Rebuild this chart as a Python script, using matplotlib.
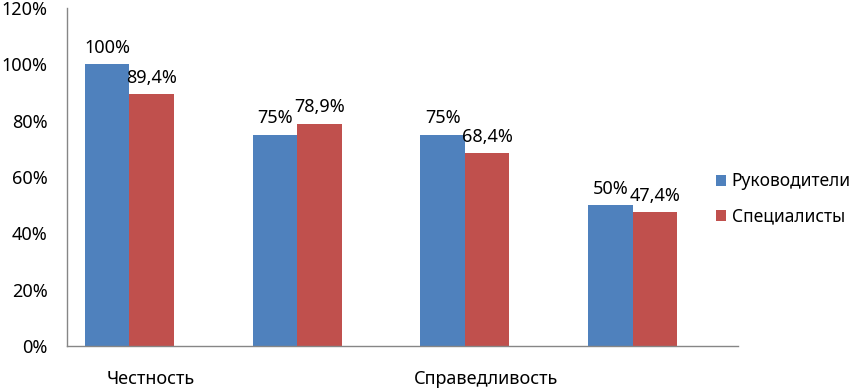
import numpy as np
from matplotlib import pyplot as plt

plt.rcParams['font.family'] = ['Noto Sans', 'DejaVu Sans']

# data
categories = ['Честность', '', 'Справедливость', '']
managers = [100.0, 75.0, 75.0, 50.0]
specialists = [89.4, 78.9, 68.4, 47.4]
managers_text = ['100%', '75%', '75%', '50%']
specialists_text = ['89,4%', '78,9%', '68,4%', '47,4%']
series_names = ['Руководители', 'Специалисты']

BLUE = '#4F81BD'
RED = '#C0504D'
GREY = '#868686'
FS = 13

fig = plt.figure(figsize=(8.6, 3.89), dpi=100)
ax = fig.add_axes([67 / 860, 43 / 389, (738 - 67) / 860, 338 / 389])

x = np.arange(len(categories))
w = 0.265
b1 = ax.bar(x - 0.393 + w / 2, managers, w, color=BLUE, label=series_names[0])
b2 = ax.bar(x - 0.128 + w / 2, specialists, w, color=RED, label=series_names[1])

for bars, texts in ((b1, managers_text), (b2, specialists_text)):
    for rect, t in zip(bars, texts):
        ax.annotate(t, (rect.get_x() + rect.get_width() / 2, rect.get_height()),
                    xytext=(0, 5.5), textcoords='offset points',
                    ha='center', va='bottom', fontsize=FS)

ax.set_xlim(-0.5, 3.5)
ax.set_ylim(0, 120)
ax.set_yticks(range(0, 121, 20))
ax.set_yticklabels([f'{v}%' for v in range(0, 121, 20)])
ax.set_xticks(x)
ax.set_xticklabels(categories)
ax.tick_params(axis='y', length=0, pad=14, labelsize=FS)
ax.tick_params(axis='x', length=0, pad=17, labelsize=FS)

for side in ('top', 'right'):
    ax.spines[side].set_visible(False)
for side in ('left', 'bottom'):
    ax.spines[side].set_color(GREY)
    ax.spines[side].set_linewidth(1)

fig.legend(handles=[b1, b2], loc='center left', bbox_to_anchor=(716 / 860, 1 - 199 / 389),
           frameon=False, fontsize=12.5, handlelength=0.6, handleheight=0.6,
           handletextpad=0.3, labelspacing=1.0, borderpad=0, borderaxespad=0)

fig.savefig('out.png', dpi=100)
